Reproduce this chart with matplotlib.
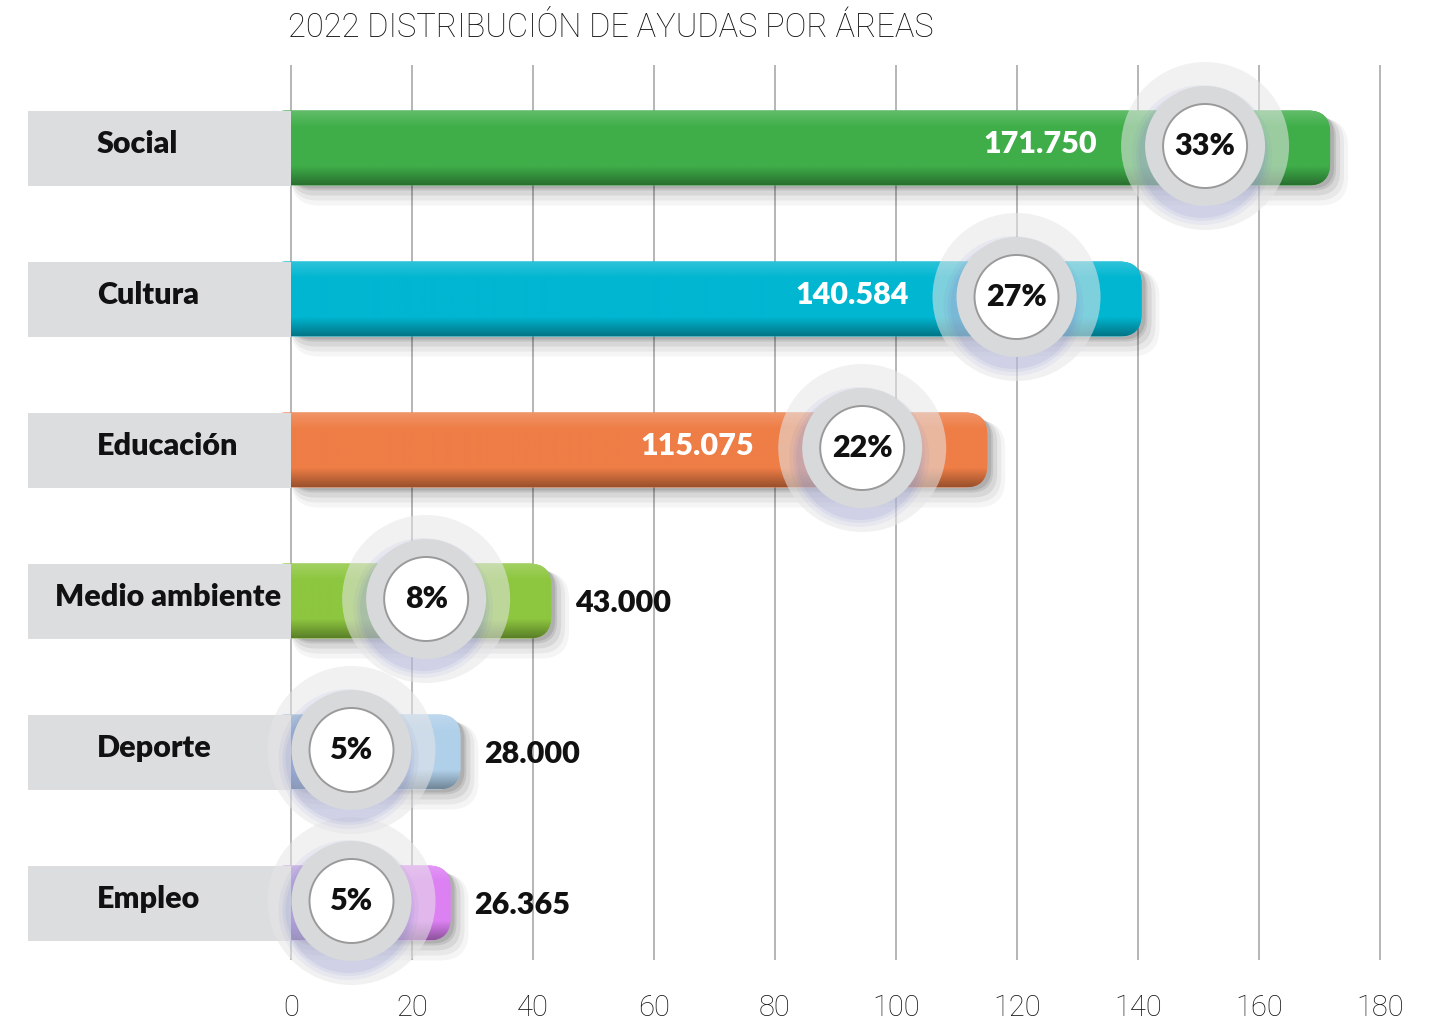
import numpy as np
import matplotlib
matplotlib.use("Agg")
import matplotlib.pyplot as plt
from matplotlib.patches import FancyBboxPatch, Ellipse, Rectangle
from matplotlib.colors import to_rgb

# ---------------- data ----------------
title = "2022 DISTRIBUCIÓN DE AYUDAS POR ÁREAS"
categories = ["Social", "Cultura", "Educación", "Medio ambiente", "Deporte", "Empleo"]
values = [171.750, 140.584, 115.075, 43.000, 28.000, 26.365]
value_labels = ["171.750", "140.584", "115.075", "43.000", "28.000", "26.365"]
percents = ["33%", "27%", "22%", "8%", "5%", "5%"]
ticks = [0, 20, 40, 60, 80, 100, 120, 140, 160, 180]

# ---------------- style ----------------
colors_left = ["#3fae49", "#00b6d1", "#ee7d46", "#8dc63f", "#4f86bd", "#9a6ad6"]
colors_right = ["#3fae49", "#00b6d1", "#ee7d46", "#8dc63f", "#b0d0ea", "#dc80f3"]

W, H = 1446, 1023
fig = plt.figure(figsize=(W / 100, H / 100), dpi=100)
ax = fig.add_axes([0, 0, 1, 1])
ax.axis("off")

X0PX, XMAXPX = 291, 1380
XU = 180 / (XMAXPX - X0PX)      # data units per pixel (x)
ROW0PX, ROWPX = 148, 151
YU = 1 / ROWPX                  # data units per pixel (y)


def px2x(p):
    return (p - X0PX) * XU


def px2y(p):
    return (p - ROW0PX) * YU


ax.set_xlim(px2x(0), px2x(W))
ax.set_ylim(px2y(H), px2y(0))

BOLD = ["Lato", "Open Sans", "DejaVu Sans"]
BW = "heavy"
LIGHT = ["Roboto", "Open Sans", "DejaVu Sans"]

# grid lines
for t in ticks:
    ax.plot([t, t], [px2y(65), px2y(960)], color="#a9a9a9", lw=1.2, zorder=1,
            solid_capstyle="butt")
    ax.text(t, px2y(1008), str(t), ha="center", va="center", fontsize=21,
            family=LIGHT, fontweight="light", color="#111111")

ax.text(px2x(288), px2y(28), title, ha="left", va="center", fontsize=23.5,
        family=LIGHT, fontweight="light", color="#111111")

bar_h = 75 * YU
aspect = YU / XU
rad = 22 * XU
left_ext = px2x(X0PX - 26)

for i, (cat, v) in enumerate(zip(categories, values)):
    yc = i
    y0 = yc - bar_h / 2
    # soft shadow
    for (dx, dy, grow, a) in [(12, 14, 6, 0.04), (10, 11, 4, 0.05), (8, 8, 2, 0.07),
                              (6, 5, 0, 0.09), (4, 3, 0, 0.10)]:
        sh = FancyBboxPatch((0, y0 + dy * YU - grow * YU), v + dx * XU + grow * XU,
                            bar_h + 2 * grow * YU,
                            boxstyle=f"round,pad=0,rounding_size={rad + grow * XU}",
                            mutation_aspect=aspect, fc="black", ec="none",
                            alpha=a, zorder=2)
        ax.add_patch(sh)
    bar = FancyBboxPatch((left_ext, y0), v - left_ext, bar_h,
                         boxstyle=f"round,pad=0,rounding_size={rad}",
                         mutation_aspect=aspect, fc=colors_right[i], ec="none", zorder=3)
    ax.add_patch(bar)
    # gradient fill: horizontal colour blend + vertical shading
    nx, ny = 200, 60
    cl = np.array(to_rgb(colors_left[i]))
    cr = np.array(to_rgb(colors_right[i]))
    tx = np.clip((np.linspace(left_ext, v, nx) - 0) / max(v * 0.6, 1), 0, 1)
    base = cl[None, :] * (1 - tx[:, None]) + cr[None, :] * tx[:, None]
    ty = np.linspace(0, 1, ny)  # 0 = top, 1 = bottom
    light = np.clip(1 - ty / 0.22, 0, 1) * 0.18
    dark = np.clip((ty - 0.75) / 0.25, 0, 1) * 0.35
    img = np.zeros((ny, nx, 3))
    for j in range(ny):
        img[j] = base * (1 - dark[j]) + (1 - base) * light[j]
    im = ax.imshow(img, extent=[left_ext, v, y0 + bar_h, y0], origin="upper",
                   aspect="auto", zorder=3.1, interpolation="bilinear")
    im.set_clip_path(bar)
    # category label box
    ax.add_patch(Rectangle((px2x(28), y0), px2x(X0PX) - px2x(28), bar_h,
                           fc="#dcdddf", ec="none", zorder=4))
    if len(cat) > 10:
        ax.text(px2x(281), yc - 4 * YU, cat, ha="right", va="center", fontsize=22,
                family=BOLD, fontweight=BW, color="#111111", zorder=5)
    else:
        ax.text(px2x(97), yc - 4 * YU, cat, ha="left", va="center", fontsize=22,
                family=BOLD, fontweight=BW, color="#111111", zorder=5)

    # percent circle
    cx = max(v - 125 * XU, 10)
    cyy = yc - 2 * YU

    def circ(r, dxp=0, dyp=0, **kw):
        return Ellipse((cx + dxp * XU, cyy + dyp * YU), 2 * r * XU, 2 * r * YU, **kw)

    ax.add_patch(circ(84, fc="#e6e6e8", ec="none", alpha=0.55, zorder=6))
    for r, a in [(70, 0.07), (66, 0.09), (63, 0.11)]:
        ax.add_patch(circ(r, -3, 9, fc="#7078c8", ec="none", alpha=a, zorder=6.5))
    ax.add_patch(circ(60, fc="#d8d9db", ec="none", zorder=7))
    ax.add_patch(circ(42, fc="white", ec="#9a9a9a", lw=1.4, zorder=8))
    ax.text(cx, cyy, percents[i], ha="center", va="center", fontsize=22,
            family=BOLD, fontweight=BW, color="#111111", zorder=9)

    # value label
    if v > 100:
        ax.text(v - 38.5, yc - 4 * YU, value_labels[i], ha="right", va="center",
                fontsize=22, family=BOLD, fontweight=BW, color="white", zorder=5)
    else:
        ax.text(v + 24 * XU, yc + 2 * YU, value_labels[i], ha="left", va="center",
                fontsize=22, family=BOLD, fontweight=BW, color="#111111", zorder=5)

fig.savefig("out.png", dpi=100)
